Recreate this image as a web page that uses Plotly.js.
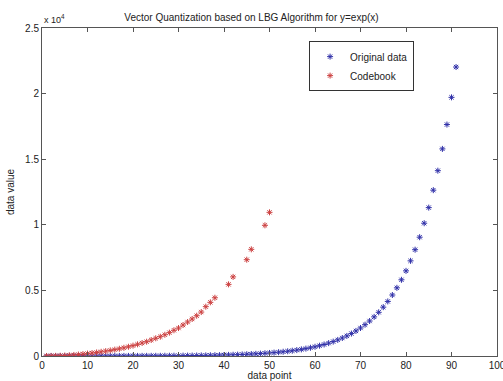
<!DOCTYPE html>
<html>
<head>
<meta charset="utf-8">
<script src="https://cdn.plot.ly/plotly-3.0.1.min.js"></script>
<style>html,body{margin:0;padding:0;background:#fff;}#chart{width:503px;height:381px;}</style>
</head>
<body>
<div id="chart"></div>
<script>
// Original data: index 1..91
var originalX = [];
for (var i = 1; i <= 91; i++) originalX.push(i);
var originalY = [
  1, 1.12, 1.25, 1.40, 1.56, 1.74, 1.95, 2.18, 2.43,
  2.72, 3.04, 3.40, 3.79, 4.24, 4.74, 5.29, 5.92, 6.61,
  7.39, 8.26, 9.23, 10.3, 11.5, 12.9, 14.4, 16.1, 18.0,
  20.1, 22.5, 25.1, 28.0, 31.3, 35.0, 39.1, 43.7, 48.9,
  54.6, 61.0, 68.2, 76.2, 85.2, 95.2, 106, 119, 133,
  148, 166, 185, 207, 232, 259, 289, 323, 361,
  403, 451, 504, 563, 629, 703, 786, 878, 982,
  1097, 1226, 1370, 1531, 1710, 1911, 2136, 2387, 2668,
  2981, 3331, 3723, 4160, 4649, 5196, 5807, 6489, 7252,
  8103, 9056, 10120, 11310, 12640, 14125, 15785, 17640, 19714,
  22026
];
// Codebook
var codebookX = [1,2,3,4,5,6,7,8,9,10,11,12,13,14,15,16,17,18,19,20,
  21,22,23,24,25,26,27,28,29,30,31,32,33,34,35,36,37,38,41,42,45,46,49,50];
var codebookY = [2,5,10,20,35,55,80,110,145,185,225,270,320,370,425,485,550,625,705,790,
  890,990,1090,1220,1350,1470,1620,1780,1960,2130,2360,2590,2820,3070,3350,3760,4090,4440,
  5460,6030,7340,8130,9960,10950];
var xTicks = [0,10,20,30,40,50,60,70,80,90,100];
var yTickVals = [0,5000,10000,15000,20000,25000];
var yTickText = ['0','0.5','1','1.5','2','2.5'];

var fontFam = 'Liberation Sans, Arial, sans-serif';
var traces = [
  {x: originalX, y: originalY, type: 'scatter', mode: 'markers', name: 'Original data',
   marker: {symbol: 'asterisk-open', size: 5, color: '#3030a8', line: {color: '#3030a8', width: 1}}},
  {x: codebookX, y: codebookY, type: 'scatter', mode: 'markers', name: 'Codebook',
   marker: {symbol: 'asterisk-open', size: 5, color: '#cc4040', line: {color: '#cc4040', width: 1}}}
];
var axisCommon = {
  showgrid: false, zeroline: false, showline: true, linecolor: '#555', linewidth: 1,
  mirror: 'ticks', ticks: 'inside', ticklen: 4, tickcolor: '#555',
  tickfont: {family: fontFam, size: 10, color: '#222'}
};
var layout = {
  width: 503, height: 381,
  margin: {l: 42, r: 6, t: 28, b: 25},
  paper_bgcolor: '#fff', plot_bgcolor: '#fff',
  title: {text: 'Vector Quantization based on LBG Algorithm for y=exp(x)',
          font: {family: fontFam, size: 10, color: '#222'}, x: 0.5, xanchor: 'center', y: 0.955, yanchor: 'middle'},
  xaxis: Object.assign({}, axisCommon, {range: [0, 100], tickvals: xTicks, ticklabeloverflow: 'allow',
          title: {text: 'data point', font: {family: fontFam, size: 10, color: '#222'}, standoff: 0}}),
  yaxis: Object.assign({}, axisCommon, {range: [0, 25000], tickvals: yTickVals, ticktext: yTickText,
          title: {text: 'data value', font: {family: fontFam, size: 10, color: '#222'}, standoff: 8}}),
  showlegend: true,
  legend: {x: 0.587, y: 0.96, xanchor: 'left', yanchor: 'top', bgcolor: '#fff',
           bordercolor: '#333', borderwidth: 1, font: {family: fontFam, size: 10, color: '#222'},
           tracegroupgap: 0, itemwidth: 30},
  annotations: [{xref: 'paper', yref: 'paper', x: 0.0, y: 1.0, xanchor: 'left', yanchor: 'bottom',
                 text: 'x 10<sup>4</sup>', showarrow: false, font: {family: fontFam, size: 9, color: '#222'}, yshift: 1}]
};
Plotly.newPlot('chart', traces, layout, {displayModeBar: false, staticPlot: true});
</script>
</body>
</html>
